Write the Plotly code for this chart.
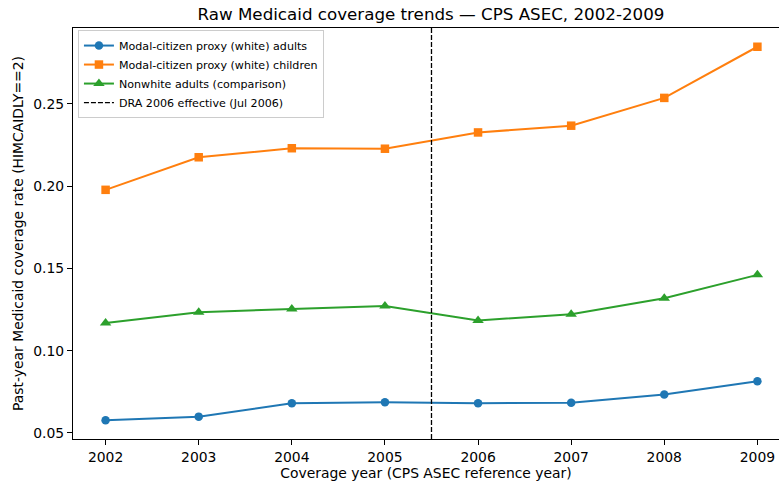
import plotly.graph_objects as go

# Coverage years (CPS ASEC reference year)
years = [2002, 2003, 2004, 2005, 2006, 2007, 2008, 2009]

# Past-year Medicaid coverage rates (HIMCAIDLY==2)
white_adults = [0.0577, 0.0599, 0.0680, 0.0686, 0.0680, 0.0684, 0.0733, 0.0814]
white_children = [0.1978, 0.2176, 0.2231, 0.2228, 0.2327, 0.2368, 0.2537, 0.2848]
nonwhite_adults = [0.1169, 0.1234, 0.1254, 0.1271, 0.1184, 0.1221, 0.1319, 0.1461]

# DRA 2006 effective date (July 2006), expressed on the coverage-year axis
dra_effective = 2005.5

y_range = [0.0463, 0.2962]
x_range = [2001.65, 2009.232]

W, H = 779, 487
font_family = "DejaVu Sans, Verdana, sans-serif"

fig = go.Figure()

series = [
    ("Modal-citizen proxy (white) adults", white_adults, "#1f77b4", "circle", 8.5),
    ("Modal-citizen proxy (white) children", white_children, "#ff7f0e", "square", 8.5),
    ("Nonwhite adults (comparison)", nonwhite_adults, "#2ca02c", "triangle-up", 10),
]
for name, vals, color, symbol, size in series:
    fig.add_trace(go.Scatter(
        x=years, y=vals, name=name, mode="lines+markers",
        line=dict(color=color, width=2),
        marker=dict(symbol=symbol, size=size, color=color),
    ))

fig.add_trace(go.Scatter(
    x=[dra_effective, dra_effective], y=y_range,
    name="DRA 2006 effective (Jul 2006)", mode="lines",
    line=dict(color="black", width=1.3, dash="5px,2px"),
))

axis_common = dict(
    showline=True, linecolor="black", linewidth=1.1,
    ticks="outside", ticklen=5, tickwidth=1.1, tickcolor="black",
    showgrid=False, zeroline=False,
    tickfont=dict(family=font_family, size=13.9, color="black"),
    title_font=dict(family=font_family, size=13.9, color="black"),
)

fig.update_xaxes(
    range=x_range, tickvals=years, ticktext=[str(y) for y in years],
    mirror=True,
    title_text="Coverage year (CPS ASEC reference year)", title_standoff=4,
    **axis_common,
)
fig.update_yaxes(
    range=y_range, tickvals=[0.05, 0.10, 0.15, 0.20, 0.25],
    ticktext=["0.05", "0.10", "0.15", "0.20", "0.25"],
    title_text="Past-year Medicaid coverage rate (HIMCAIDLY==2)", title_standoff=6,
    **axis_common,
)

fig.update_layout(
    width=W, height=H,
    margin=dict(l=73, r=0, t=28, b=48),
    paper_bgcolor="white", plot_bgcolor="white",
    font=dict(family=font_family, color="black"),
    title=dict(
        text="Raw Medicaid coverage trends — CPS ASEC, 2002-2009",
        font=dict(family=font_family, size=16.7, color="black"),
        xref="container", x=431 / W, xanchor="center",
        yref="container", y=1 - 14.5 / H, yanchor="middle",
    ),
    legend=dict(
        x=0.007, y=0.995, xanchor="left", yanchor="top",
        bgcolor="rgba(255,255,255,0.8)", bordercolor="#cccccc", borderwidth=1,
        font=dict(family=font_family, size=11.1, color="black"),
        itemwidth=30, tracegroupgap=0,
    ),
    showlegend=True,
)

fig.write_html("out.html")
